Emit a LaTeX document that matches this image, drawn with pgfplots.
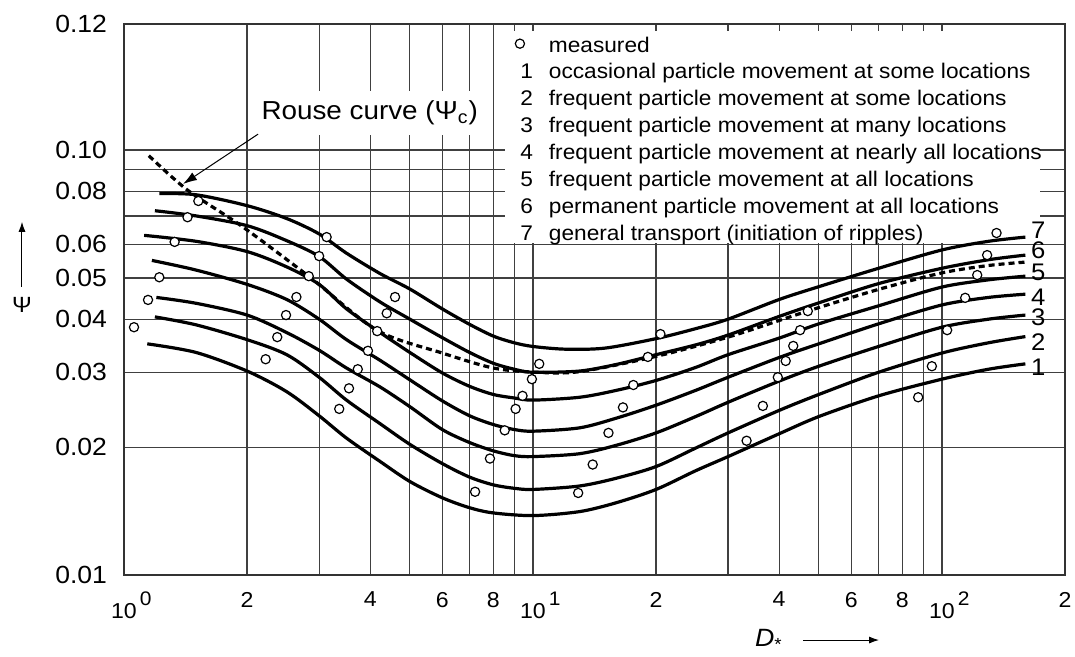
\documentclass[border=0pt]{standalone}
\usepackage{fontspec}
\setmainfont[FakeStretch=1.07]{Liberation Sans}
\usepackage{pgfplots}
\pgfplotsset{compat=1.18}
\usetikzlibrary{arrows.meta}
\pgfplotsset{numimg/.style={legend image code/.code={\path (0pt,0pt) (14pt,0pt); \node[inner sep=0pt] at (8pt,0pt) {#1};}}}
\newcommand{\tenpow}[1]{10\rlap{\hspace{1.5pt}\raisebox{0.6em}{\fontsize{9.8}{10}\selectfont #1}}}
\begin{document}
\begin{tikzpicture}
\begin{axis}[
  xmode=log, ymode=log,
  scale only axis, width=470.5pt, height=275.5pt,
  xmin=1, xmax=200, ymin=0.01, ymax=0.198,
  clip=false,
  xtick={1,2,4,6,8,10,20,40,60,80,100,200},
  xticklabels={\tenpow{0},2,4,6,8,\tenpow{1},2,4,6,8,\tenpow{2},2},
  minor xtick={3,5,7,9,30,50,70,90},
  ytick={0.01,0.02,0.03,0.04,0.05,0.06,0.08,0.1,0.198},
  yticklabels={0.01,0.02,0.03,0.04,0.05,0.06,0.08,0.10,0.12},
  minor ytick={0.07,0.09},
  grid=both,
  minor grid style={black!75, line width=0.6pt},
  major grid style={black!75, line width=0.6pt},
  major tick length=0pt, minor tick length=0pt,
  axis line style={black!80, line width=0.7pt},
  xticklabel style={font=\fontsize{10.8}{12}\selectfont, black, yshift=-5pt},
  yticklabel style={font=\fontsize{12.4}{14}\selectfont, black, xshift=-5pt},
  legend style={at={(axis description cs:0.405,1)}, anchor=north west, yshift=-2.9pt, xshift=-1pt,
    draw=none, fill=none, inner sep=0pt, column sep=6pt,
    font=\fontsize{10.6}{12.5}\selectfont,
    nodes={inner xsep=2pt, inner ysep=0pt, text height=10.9pt, text depth=2.55pt}},
  legend cell align=left,
]
% white area behind the legend
\fill[white] ([yshift=-3.5pt]rel axis cs:0.405,1) rectangle (rel axis cs:0.9734,0.603);

% legend
\addlegendimage{legend image code/.code={\path (0pt,0pt) (14pt,0pt); \draw[only marks, mark=o, mark size=2.3pt, black, line width=0.6pt] plot coordinates {(8pt,0pt)};}}
\addlegendentry{measured}
\addlegendimage{numimg=1}
\addlegendentry{occasional particle movement at some locations}
\addlegendimage{numimg=2}
\addlegendentry{frequent particle movement at some locations}
\addlegendimage{numimg=3}
\addlegendentry{frequent particle movement at many locations}
\addlegendimage{numimg=4}
\addlegendentry{frequent particle movement at nearly all locations}
\addlegendimage{numimg=5}
\addlegendentry{frequent particle movement at all locations}
\addlegendimage{numimg=6}
\addlegendentry{permanent particle movement at all locations}
\addlegendimage{numimg=7}
\addlegendentry{general transport (initiation of ripples)}

% curve 1
\addplot[black, line width=1.6pt, smooth, forget plot] coordinates {
(1.14,0.0350) (1.5,0.0334) (2,0.0302) (2.5,0.0270) (3,0.0237) (3.5,0.0210) (4.23,0.0185)
(5,0.0166) (6,0.0152) (7,0.0144) (8,0.0140) (10,0.0138) (13,0.0141) (16,0.0148)
(20,0.0159) (25,0.0176) (30,0.0190) (40,0.0215) (50,0.0236) (70,0.0264) (100,0.0289)
(130,0.0305) (160,0.0314)};
% curve 2
\addplot[black, line width=1.6pt, smooth, forget plot] coordinates {
(1.19,0.0405) (1.5,0.0388) (2,0.0358) (2.5,0.0330) (3,0.0292) (3.5,0.0258) (4.23,0.0227)
(5,0.0203) (6,0.0183) (7,0.0170) (8,0.0163) (9,0.0160) (10,0.0159) (13,0.0162) (16,0.0169)
(20,0.0180) (25,0.0199) (30,0.0216) (40,0.0244) (50,0.0266) (70,0.0300) (100,0.0333)
(130,0.0352) (160,0.0364)};
% curve 3
\addplot[black, line width=1.6pt, smooth, forget plot] coordinates {
(1.2,0.0450) (1.5,0.0436) (2,0.0409) (2.5,0.0372) (3,0.0338) (3.5,0.0307) (4.23,0.0277)
(5,0.0249) (6,0.0220) (7,0.0205) (8,0.0196) (9,0.0191) (10,0.0190) (13,0.0193) (16,0.0202)
(20,0.0216) (25,0.0236) (30,0.0255) (40,0.0286) (50,0.0310) (70,0.0345) (100,0.0383)
(130,0.0400) (160,0.0409)};
% curve 4
\addplot[black, line width=1.6pt, smooth, forget plot] coordinates {
(1.17,0.0550) (1.5,0.0522) (2,0.0483) (2.5,0.0445) (3,0.0400) (3.5,0.0358) (4.23,0.0320)
(5,0.0288) (6,0.0257) (7,0.0237) (8,0.0226) (9,0.0220) (10,0.0218) (13,0.0222) (16,0.0234)
(20,0.0251) (25,0.0272) (30,0.0292) (40,0.0325) (50,0.0350) (70,0.0390) (100,0.0432)
(130,0.0450) (160,0.0458)};
% curve 5
\addplot[black, line width=1.6pt, smooth, forget plot] coordinates {
(1.12,0.0630) (1.5,0.0610) (2,0.0577) (2.5,0.0531) (3,0.0483) (3.5,0.0423) (4.23,0.0372)
(5,0.0334) (6,0.0299) (7,0.0278) (8,0.0266) (9,0.0261) (10,0.0258) (13,0.0262) (16,0.0272)
(20,0.0287) (25,0.0308) (30,0.0330) (40,0.0361) (50,0.0390) (70,0.0430) (100,0.0476)
(130,0.0495) (160,0.0505)};
% curve 6
\addplot[black, line width=1.6pt, smooth, forget plot] coordinates {
(1.19,0.0720) (1.5,0.0700) (2,0.0664) (2.5,0.0612) (3,0.0562) (3.5,0.0497) (4.23,0.0439)
(5,0.0400) (6,0.0362) (7,0.0334) (8,0.0315) (9,0.0305) (10,0.0300) (13,0.0302) (16,0.0313)
(20,0.0330) (25,0.0348) (30,0.0367) (40,0.0406) (50,0.0437) (70,0.0485) (100,0.0527)
(130,0.0552) (160,0.0566)};
% curve 7
\addplot[black, line width=1.6pt, smooth, forget plot] coordinates {
(1.22,0.0790) (1.5,0.0785) (2,0.0740) (2.5,0.0690) (3,0.0635) (3.5,0.0572) (4.23,0.0512)
(5,0.0471) (6,0.0423) (7,0.0389) (8,0.0365) (9,0.0352) (10,0.0345) (12,0.0340) (15,0.0342)
(20,0.0360) (25,0.0380) (30,0.0400) (40,0.0445) (50,0.0477) (70,0.0527) (100,0.0582)
(130,0.0610) (160,0.0624)};
% Rouse curve
\addplot[black, line width=1.6pt, dash pattern=on 3pt off 2pt, smooth, forget plot] coordinates {
(1.15,0.0970) (1.43,0.0805) (1.95,0.0660) (2.85,0.0502) (4.15,0.0377) (6,0.0333) (8,0.0307)
(10.2,0.0300) (13,0.0301) (20,0.0327) (30,0.0363) (47,0.0418) (70,0.0470) (100,0.0514)
(130,0.0535) (160,0.0545)};

% measured
\addplot[only marks, mark=*, mark size=2.3pt, mark options={fill=white, draw=black, line width=0.6pt}, forget plot] coordinates {
(1.058,0.0383) (1.145,0.0444) (1.22,0.0502) (1.33,0.0608) (1.43,0.0695) (1.52,0.0759)
(2.22,0.0322) (2.37,0.0363) (2.49,0.0409) (2.64,0.0451) (2.83,0.0505) (3.00,0.0563) (3.13,0.0624)
(3.36,0.0246) (3.55,0.0275) (3.73,0.0305) (3.95,0.0337) (4.16,0.0375) (4.39,0.0413) (4.60,0.0451)
(7.22,0.0157) (7.85,0.0188) (8.53,0.0219) (9.07,0.0246) (9.43,0.0264) (9.94,0.0289) (10.36,0.0314)
(12.9,0.0156) (14.0,0.0182) (15.3,0.0216) (16.6,0.0248) (17.6,0.0280) (19.1,0.0326) (20.5,0.0369)
(33.3,0.0207) (36.5,0.0250) (39.7,0.0292) (41.5,0.0319) (43.3,0.0346) (45.0,0.0377) (47.0,0.0418)
(87.5,0.0262) (94.5,0.0310) (103,0.0377) (114,0.0449) (122,0.0508) (129,0.0566) (136,0.0638)};

% curve numbers
\node[font=\fontsize{12}{14}\selectfont, inner sep=0pt] at (axis cs:172,0.0648) {7};
\node[font=\fontsize{12}{14}\selectfont, inner sep=0pt] at (axis cs:172,0.0582) {6};
\node[font=\fontsize{12}{14}\selectfont, inner sep=0pt] at (axis cs:172,0.0516) {5};
\node[font=\fontsize{12}{14}\selectfont, inner sep=0pt] at (axis cs:172,0.0451) {4};
\node[font=\fontsize{12}{14}\selectfont, inner sep=0pt] at (axis cs:172,0.0405) {3};
\node[font=\fontsize{12}{14}\selectfont, inner sep=0pt] at (axis cs:172,0.0353) {2};
\node[font=\fontsize{12}{14}\selectfont, inner sep=0pt] at (axis cs:172,0.0308) {1};

% Rouse label and arrow
\node[fill=white, inner xsep=4pt, inner ysep=5pt, font=\fontsize{13}{15}\selectfont] at (axis cs:3.99,0.1224) {Rouse curve (Ψ\textsubscript{c})};
\draw[-{Latex[length=7pt,width=4.5pt]}, line width=0.5pt] (axis cs:2.127,0.109) -- (axis cs:1.394,0.0832);

% axis labels
\draw[-{Latex[length=5pt,width=3.5pt]}, line width=0.5pt] (rel axis cs:-0.1084,0.523) -- (rel axis cs:-0.1084,0.641);
\node[font=\fontsize{11}{13}\selectfont] at (rel axis cs:-0.1084,0.49) {Ψ};
\node[font=\fontsize{12.5}{14}\selectfont] at (rel axis cs:0.6854,-0.118) {\textit{D}\textsubscript{*}};
\draw[-{Latex[length=5pt,width=3.5pt]}, line width=0.5pt] (rel axis cs:0.7216,-0.118) -- (rel axis cs:0.8024,-0.118);
\end{axis}
\pgfresetboundingbox
\path[use as bounding box] ([shift={(-62pt,-40.5pt)}]current axis.south west) rectangle ([shift={(5pt,12pt)}]current axis.north east);
\end{tikzpicture}
\end{document}
